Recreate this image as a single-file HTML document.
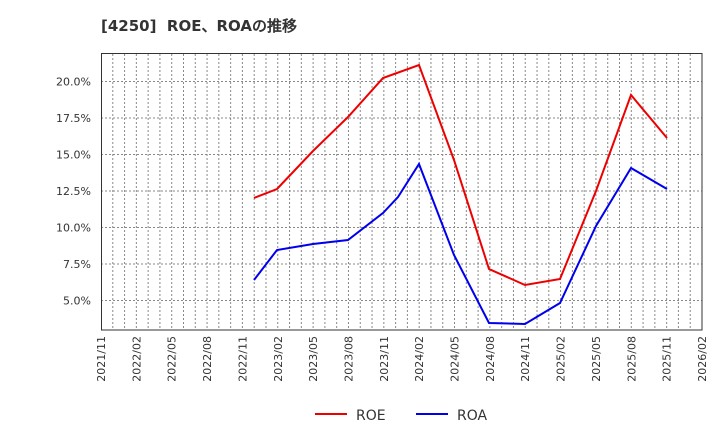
<!DOCTYPE html><html><head><style>body{margin:0;background:#fff}svg text{font-family:"DejaVu Sans","Liberation Sans",sans-serif}</style></head><body>
<svg width="720" height="440" xmlns="http://www.w3.org/2000/svg">
<text x="101" y="31" font-size="15" font-weight="bold" fill="#333" xml:space="preserve" style="white-space:pre">[4250]  ROE、ROAの推移</text>
<g stroke="#888" stroke-width="1" stroke-dasharray="2,2" fill="none">
<path d="M101 81.5H702M101 118H702M101 154.5H702M101 191H702M101 227.5H702M101 264H702M101 300.5H702"/>
</g>
<g id="vg" stroke="#888" stroke-width="1" stroke-dasharray="2,2"></g>
<rect x="101.5" y="53.5" width="600.5" height="276.5" fill="none" stroke="#333"/>
<g font-size="11" fill="#333" text-anchor="end">
<text x="91" y="85.5">20.0%</text><text x="91" y="122">17.5%</text><text x="91" y="158.5">15.0%</text><text x="91" y="195">12.5%</text><text x="91" y="231.5">10.0%</text><text x="91" y="268">7.5%</text><text x="91" y="304.5">5.0%</text>
</g>
<g id="xl" font-size="11" fill="#333" text-anchor="end"></g>
<polyline fill="none" stroke="#e00" stroke-width="2" points="254,198 277,189 313,151 348,117 383,78 419,65 454,160 489,269 525,285 560,279 596,191 631,95 667,138"/>
<polyline fill="none" stroke="#00e" stroke-width="2" points="254,280 277,250 313,244 348,240 383,213 398,197 419,164 454,255 489,323 525,324 560,303 596,226 631,168 667,189"/>
<line x1="315" y1="414" x2="347" y2="414" stroke="#e00" stroke-width="2"/><text x="356" y="420" font-size="14" fill="#333">ROE</text>
<line x1="416" y1="414" x2="448" y2="414" stroke="#00e" stroke-width="2"/><text x="457" y="420" font-size="14" fill="#333">ROA</text>
<script>
var ns="http://www.w3.org/2000/svg",g=document.getElementById("vg"),xl=document.getElementById("xl");
for(var i=1;i<51;i++){var x=101+i*601/51;var l=document.createElementNS(ns,"line");l.setAttribute("x1",x);l.setAttribute("x2",x);l.setAttribute("y1",54);l.setAttribute("y2",330);g.appendChild(l);}
var labs=[];for(var k=0;k<18;k++){var m=11+3*k;var y=2021+Math.floor((m-1)/12);var mm=((m-1)%12)+1;labs.push(y+"/"+(mm<10?"0":"")+mm);}
labs.forEach(function(s,k){var x=101+k*601/17+4;var t=document.createElementNS(ns,"text");t.setAttribute("transform","translate("+x+",336) rotate(-90)");t.textContent=s;xl.appendChild(t);});
</script>
</svg></body></html>
